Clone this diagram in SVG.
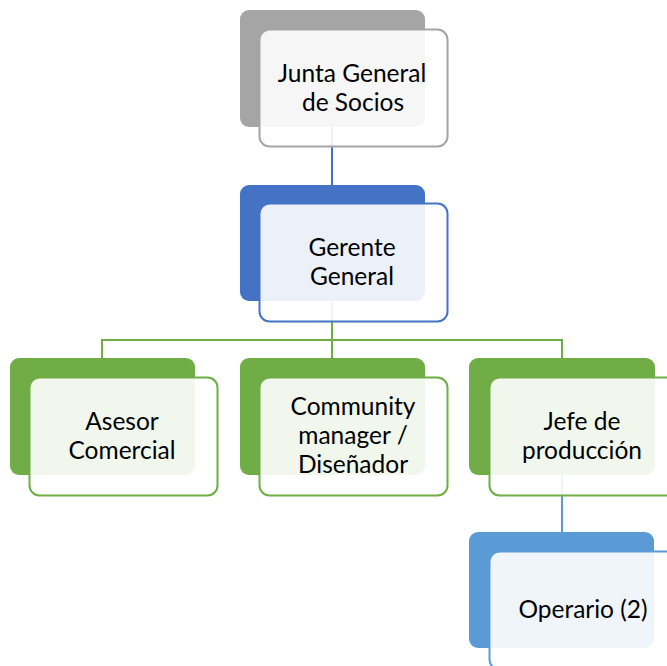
<svg xmlns="http://www.w3.org/2000/svg" width="667" height="666" viewBox="0 0 667 666">
<style>
  .front { fill: #ffffff; fill-opacity: 0.9; stroke-width: 2; }
  .conn { fill: none; stroke-width: 2; }
  text { font-family: Lato, "Open Sans", "Liberation Sans", sans-serif; font-size: 24.5px; fill: #000; text-anchor: middle; }
  .gray { fill: #a5a5a5; }
  .blue { fill: #4472c4; }
  .green { fill: #70ad47; }
  .lblue { fill: #5b9bd5; }
</style>
<rect width="667" height="666" fill="#ffffff"/>
<g id="backs">
  <rect class="gray" x="240" y="10" width="185" height="117" rx="9"/>
  <rect class="blue" x="240" y="185" width="185" height="116" rx="9"/>
  <rect class="green" x="10" y="358" width="185" height="117" rx="9"/>
  <rect class="green" x="240" y="358" width="185" height="117" rx="9"/>
  <rect class="green" x="469" y="358" width="186" height="117" rx="9"/>
  <rect class="lblue" x="469" y="532" width="185" height="116" rx="9"/>
</g>
<g id="connectors">
  <line class="conn" stroke="#4472c4" x1="332" y1="127" x2="332" y2="185"/>
  <polyline class="conn" stroke="#70ad47" points="102,358 102,340 562,340 562,358"/>
  <line class="conn" stroke="#70ad47" x1="332" y1="301" x2="332" y2="358"/>
  <line class="conn" stroke="#5b9bd5" x1="562" y1="475" x2="562" y2="532"/>
</g>
<g id="n-junta">
  <rect class="front" stroke="#a5a5a5" x="259.5" y="29.5" width="188" height="117" rx="10"/>
  <text x="352" y="82">Junta General</text>
  <text x="353" y="111">de Socios</text>
</g>
<g id="n-gerente">
  <rect class="front" stroke="#4472c4" x="259.5" y="203.5" width="188" height="118" rx="10"/>
  <text x="352" y="256">Gerente</text>
  <text x="352" y="285">General</text>
</g>
<g id="n-asesor">
  <rect class="front" stroke="#70ad47" x="29.5" y="377.5" width="188" height="118" rx="10"/>
  <text x="122" y="430">Asesor</text>
  <text x="122" y="459">Comercial</text>
</g>
<g id="n-community">
  <rect class="front" stroke="#70ad47" x="259.5" y="377.5" width="188" height="118" rx="10"/>
  <text x="353" y="415">Community</text>
  <text x="353" y="444">manager /</text>
  <text x="353" y="473">Diseñador</text>
</g>
<g id="n-jefe">
  <rect class="front" stroke="#70ad47" x="489.5" y="377.5" width="188" height="118" rx="10"/>
  <text x="582" y="430">Jefe de</text>
  <text x="582" y="459">producción</text>
</g>
<g id="n-operario">
  <rect class="front" stroke="#5b9bd5" x="489.5" y="551.5" width="188" height="118" rx="10"/>
  <text x="583" y="618">Operario (2)</text>
</g>
</svg>
